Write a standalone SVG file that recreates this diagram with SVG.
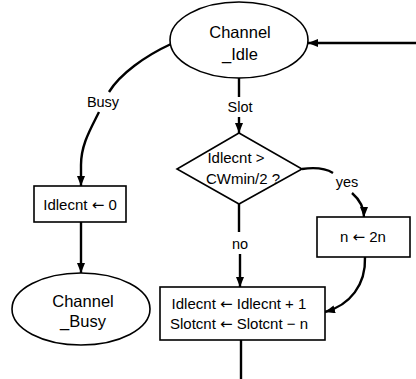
<svg xmlns="http://www.w3.org/2000/svg" width="416" height="379" viewBox="0 0 416 379">
  <style>
    .shape { fill: #fff; stroke: #000; stroke-width: 1.6; }
    .edge { fill: none; stroke: #000; stroke-width: 2.4; }
    .t { font-family: "Liberation Sans", Arial, sans-serif; font-size: 15px; fill: #000; text-anchor: middle; }
    .big { font-size: 16.5px; }
    .lbl { font-size: 14.5px; }
    .arr { font-family: "DejaVu Sans", sans-serif; }
  </style>
  <defs>
    <marker id="arrow" viewBox="0 0 10 8" refX="10" refY="4" markerWidth="10" markerHeight="8" markerUnits="userSpaceOnUse" orient="auto">
      <path d="M0,0 L10,4 L0,8 Z" fill="#000"/>
    </marker>
  </defs>

  <rect width="416" height="379" fill="#fff"/>

  <g id="connectors">
    <!-- return into Channel_idle from the right -->
    <path class="edge" d="M416,43 L308,43" marker-end="url(#arrow)"/>
    <!-- Busy branch -->
    <path class="edge" d="M171,44 C145,56 120,74 109,92"/>
    <path class="edge" d="M99,112 C90,130 81,145 81,165 L81,186" marker-end="url(#arrow)"/>
    <path class="edge" d="M81,222 L81,273" marker-end="url(#arrow)"/>
    <!-- Slot branch -->
    <path class="edge" d="M239,78 L239,97"/>
    <path class="edge" d="M239,117 L239,133" marker-end="url(#arrow)"/>
    <!-- yes branch -->
    <path class="edge" d="M302,169 C316,167 325,168 333,173"/>
    <path class="edge" d="M352,193 C360,200 364,207 364,217" marker-end="url(#arrow)"/>
    <!-- no branch -->
    <path class="edge" d="M239,204 L239,232"/>
    <path class="edge" d="M240,254 L240,287" marker-end="url(#arrow)"/>
    <!-- n <- 2n into update box -->
    <path class="edge" d="M365,257 C366,285 350,305 325,312" marker-end="url(#arrow)"/>
    <!-- exit downwards -->
    <path class="edge" d="M241,340 L241,379"/>
    <!-- edge labels -->
    <text class="t lbl" x="103" y="107">Busy</text>
    <text class="t lbl" x="240" y="112">Slot</text>
    <text class="t lbl" x="347" y="187">yes</text>
    <text class="t lbl" x="240" y="249">no</text>
  </g>

  <g id="channel-idle">
    <ellipse class="shape" cx="239" cy="40" rx="69" ry="38"/>
    <text class="t big" x="240" y="38">Channel</text>
    <text class="t big" x="240" y="60">_Idle</text>
  </g>

  <g id="idle-test">
    <polygon class="shape" points="239,133 302,169 239,204 177,169"/>
    <text class="t" x="236" y="163">Idlecnt &gt;</text>
    <text class="t" x="243" y="184">CWmin/2 ?</text>
  </g>

  <g id="reset-idlecnt">
    <rect class="shape" x="34" y="186" width="92" height="36"/>
    <text class="t" x="80" y="210">Idlecnt <tspan class="arr">←</tspan> 0</text>
  </g>

  <g id="channel-busy">
    <ellipse class="shape" cx="81" cy="309" rx="69" ry="36"/>
    <text class="t big" x="83" y="307">Channel</text>
    <text class="t big" x="83" y="327">_Busy</text>
  </g>

  <g id="double-n">
    <rect class="shape" x="317" y="217" width="93" height="40"/>
    <text class="t" x="363" y="242">n <tspan class="arr">←</tspan> 2n</text>
  </g>

  <g id="update-counts">
    <rect class="shape" x="160" y="287" width="165" height="53"/>
    <text class="t" x="239" y="309">Idlecnt <tspan class="arr">←</tspan> Idlecnt + 1</text>
    <text class="t" x="239" y="329">Slotcnt <tspan class="arr">←</tspan> Slotcnt − n</text>
  </g>
</svg>
